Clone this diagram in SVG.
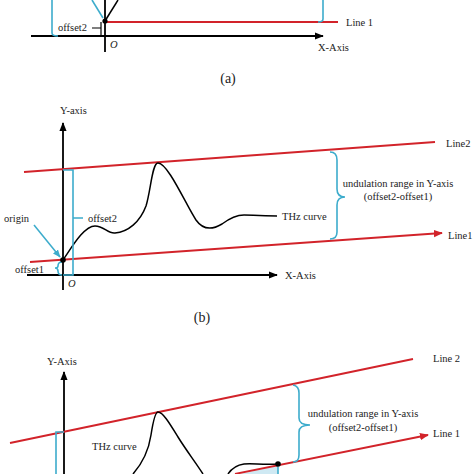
<svg xmlns="http://www.w3.org/2000/svg" width="474" height="474" viewBox="0 0 474 474" font-family="'Liberation Serif', 'DejaVu Serif', serif">
<defs>
<style>
.ax{stroke:#000;stroke-width:1.8;fill:none}
.red{stroke:#d2232a;stroke-width:1.8;fill:none}
.cy{stroke:#3daccc;stroke-width:1.6;fill:none}
.crv{stroke:#000;stroke-width:1.5;fill:none}
.blk{stroke:#000;stroke-width:1.2;fill:none}
text{font-family:'Liberation Serif','DejaVu Serif',serif;font-size:10.5px;fill:#222}
.it{font-style:italic}
.cap{font-size:14px}
</style>
<marker id="ab" viewBox="0 0 10 10" refX="9" refY="5" markerWidth="5" markerHeight="5" orient="auto"><path d="M0,1 L10,5 L0,9 z" fill="#000"/></marker>
<marker id="ar" viewBox="0 0 10 10" refX="9" refY="5" markerWidth="5" markerHeight="5" orient="auto"><path d="M0,1 L10,5 L0,9 z" fill="#d2232a"/></marker>
<marker id="ac" viewBox="0 0 10 10" refX="9" refY="5" markerWidth="5" markerHeight="5" orient="auto"><path d="M0,1 L10,5 L0,9 z" fill="#3daccc"/></marker>
</defs>
<rect width="474" height="474" fill="#fff"/>

<!-- (a) -->
<g id="panel-a">
<line class="ax" x1="31" y1="36" x2="323" y2="36" marker-end="url(#ab)"/>
<line class="ax" x1="105" y1="0" x2="105" y2="52"/>
<line class="red" x1="105" y1="22" x2="338" y2="22"/>
<line class="crv" x1="105" y1="21" x2="118" y2="0"/>
<line class="cy" x1="92" y1="0" x2="103" y2="18"/>
<path class="cy" d="M52,0 L52,33 Q52,36 58,36"/>
<path class="cy" d="M323,0 L323,19 Q323,22 318,22"/>
<path class="blk" d="M92,28 L101,28 M101,22 L101,36"/>
<circle cx="105" cy="21" r="2.6" fill="#000"/>
<text x="58" y="31">offset2</text>
<text x="110" y="48" class="it">O</text>
<text x="346" y="26">Line 1</text>
<text x="318" y="51">X-Axis</text>
<text x="228" y="83" class="cap" text-anchor="middle">(a)</text>
</g>

<!-- (b) -->
<g id="panel-b">
<text x="60" y="114">Y-axis</text>
<line class="ax" x1="63" y1="290" x2="63" y2="123" marker-end="url(#ab)"/>
<line class="ax" x1="27" y1="275" x2="277" y2="275" marker-end="url(#ab)"/>
<text x="285" y="279">X-Axis</text>
<line class="red" x1="24" y1="172" x2="435" y2="142"/>
<text x="446" y="147">Line2</text>
<line class="red" x1="30" y1="262" x2="442" y2="233" marker-end="url(#ar)"/>
<text x="448" y="239">Line1</text>
<path class="crv" d="M63,260 C72,247 84,226 95,226 C104,226 108,234 115,233 C128,232 140,222 146,206 C151,190 152,163 158,163 C168,163 186,205 196,220 C203,230 212,230 222,224 C230,218 236,215 244,215 C252,215 258,216 277,216"/>
<text x="282" y="220">THz curve</text>
<path class="cy" d="M63,170 L73,170 L73,275 L63,275 M73,218 L83,218"/>
<text x="88" y="222">offset2</text>
<text x="4" y="222">origin</text>
<line class="cy" x1="34" y1="225" x2="60" y2="257" marker-end="url(#ac)"/>
<path class="cy" d="M62,262 Q58,262 58,266 Q58,268 55,268 Q58,268 58,271 Q58,275 62,275"/>
<text x="15" y="273">offset1</text>
<circle cx="63" cy="260" r="2.8" fill="#000"/>
<text x="68" y="287" class="it">O</text>
<path class="cy" d="M330,152 Q337,152 337,160 L337,189 Q337,197 345,197 Q337,197 337,205 L337,232 Q337,239 330,239"/>
<text x="398" y="187" text-anchor="middle">undulation range in Y-axis</text>
<text x="398" y="200" text-anchor="middle">(offset2-offset1)</text>
<text x="202" y="322" class="cap" text-anchor="middle">(b)</text>
</g>

<!-- (c) -->
<g id="panel-c">
<text x="47" y="365">Y-Axis</text>
<line class="ax" x1="64" y1="474" x2="64" y2="372" marker-end="url(#ab)"/>
<line class="red" x1="10" y1="443" x2="413" y2="359"/>
<text x="433" y="362">Line 2</text>
<polygon points="240,474 278,466 278,474" fill="#cfe9f3"/>
<line class="red" x1="235" y1="474" x2="428" y2="435" marker-end="url(#ar)"/>
<text x="433" y="437">Line 1</text>
<path class="crv" d="M133,474 C140,466 148,455 151,435 C153,422 155,412 158,412 C163,412 170,424 178,437 C186,450 196,463 203,474"/>
<path class="crv" d="M228,474 C232,468 236,465 244,464 C252,463 262,465 278,464"/>
<path class="cy" d="M64,432 L56,432 L56,474"/>
<line class="cy" x1="278" y1="467" x2="278" y2="474"/>
<circle cx="278" cy="464" r="2.8" fill="#000"/>
<text x="92" y="450">THz curve</text>
<path class="cy" d="M293,385 Q299,386 299,393 L299,418 Q299,425 310,425 Q299,425 299,432 L299,455 Q299,462 293,462"/>
<text x="363" y="417" text-anchor="middle">undulation range in Y-axis</text>
<text x="363" y="431" text-anchor="middle">(offset2-offset1)</text>
</g>
</svg>
